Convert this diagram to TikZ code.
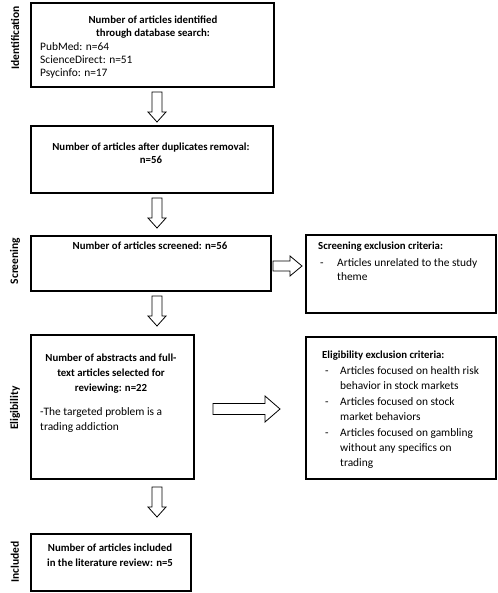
\documentclass[tikz,border=0pt]{standalone}
\usepackage{fontspec}
\setmainfont{Carlito}
\usetikzlibrary{calc}
\begin{document}
\begin{tikzpicture}[x=1pt,y=-1pt,
  box/.style={draw, line width=1.6pt, inner sep=0pt, anchor=north west},
  ttl/.style={font=\fontsize{10.8}{13}\selectfont\bfseries, inner sep=0pt, align=center, anchor=north},
  ttlb/.style={font=\fontsize{10.8}{15}\selectfont\bfseries, inner sep=0pt, align=center, anchor=north},
  lst/.style={font=\fontsize{11.4}{13}\selectfont, inner sep=0pt, align=left, anchor=north west},
  lstr/.style={font=\fontsize{11.4}{14.5}\selectfont, inner sep=0pt, align=left, anchor=north west},
  lstb/.style={font=\fontsize{11.4}{15}\selectfont, inner sep=0pt, align=left, anchor=north west},
  hd/.style={font=\fontsize{10.8}{13}\selectfont\bfseries, inner sep=0pt, align=left, anchor=north west},
  side/.style={font=\fontsize{11.5}{14}\selectfont\bfseries, inner sep=0pt, rotate=90},
  blk/.style={draw, line width=0.8pt, fill=white},
  varrow/.pic={\draw[blk] (-5,0) -- (5,0) -- (5,20) -- (9,20) -- (0,30) -- (-9,20) -- (-5,20) -- cycle;},
  harrowa/.pic={\draw[blk] (0,-5) -- (17,-5) -- (17,-10) -- (29,0) -- (17,10) -- (17,5) -- (0,5) -- cycle;},
  harrowb/.pic={\draw[blk] (0,-5.5) -- (52,-5.5) -- (52,-13) -- (67,0) -- (52,13) -- (52,5.5) -- (0,5.5) -- cycle;}
]
\useasboundingbox (0,0) rectangle (497,593);

% side labels
\node[side] (lid) at (15,38) {Identification};
\node[side] (lsc) at (15,261) {Screening};
\node[side] (lel) at (15,408) {Eligibility};
\node[side] (lin) at (15,562) {Included};

% boxes
\node[box, minimum width=243pt, minimum height=84pt] (b1) at (30,2) {};
\node[box, minimum width=242pt, minimum height=67pt] (b2) at (30,125) {};
\node[box, minimum width=240pt, minimum height=55pt] (b3) at (30,235) {};
\node[box, minimum width=190pt, minimum height=78pt] (r1) at (305,234) {};
\node[box, minimum width=163pt, minimum height=144pt] (b4) at (30,334) {};
\node[box, minimum width=190pt, minimum height=142pt] (r2) at (305,336) {};
\node[box, minimum width=160pt, minimum height=57pt] (b5) at (30,533) {};

% texts
\node[ttl] (t1) at (153,16) {Number of articles identified\\through database search:};
\node[lst] (t1l) at (40,42) {PubMed: n=64\\ScienceDirect: n=51\\Psycinfo: n=17};
\node[ttl] (t2) at (151,143) {Number of articles after duplicates removal:\\n=56};
\node[ttl] (t3) at (150,242) {Number of articles screened: n=56};
\node[hd] (tr1) at (318,242) {Screening exclusion criteria:};
\node[lstr] (tr1d) at (320,258) {\vphantom{Al}-};
\node[lstr] (tr1l) at (337,258) {Articles unrelated to the study\\theme};
\node[ttlb] (t4) at (111,354) {Number of abstracts and full-\\text articles selected for\\reviewing: n=22};
\node[lstb] (t4l) at (40,407) {-The targeted problem is a\\trading addiction};
\node[hd] (tr2) at (322,351) {Eligibility exclusion criteria:};
\node[lstb] (tr2d1) at (325,366) {\vphantom{Al}-};
\node[lstb] (tr2l1) at (340,366) {Articles focused on health risk\\behavior in stock markets};
\node[lstb] (tr2d2) at (325,397) {\vphantom{Al}-};
\node[lstb] (tr2l2) at (340,397) {Articles focused on stock\\market behaviors};
\node[lstb] (tr2d3) at (325,428) {\vphantom{Al}-};
\node[lstb] (tr2l3) at (340,428) {Articles focused on gambling\\without any specifics on\\trading};
\node[ttlb] (t5) at (110,544) {Number of articles included\\in the literature review: n=5};

% block arrows
\coordinate (a1) at (157,92);
\coordinate (a2) at (157,198);
\coordinate (a3) at (157,296);
\coordinate (a4) at (157,487);
\coordinate (h1) at (273,266);
\coordinate (h2) at (213,409);
\pic at (a1) {varrow};
\pic at (a2) {varrow};
\pic at (a3) {varrow};
\pic at (a4) {varrow};
\pic at (h1) {harrowa};
\pic at (h2) {harrowb};
\end{tikzpicture}
\end{document}
